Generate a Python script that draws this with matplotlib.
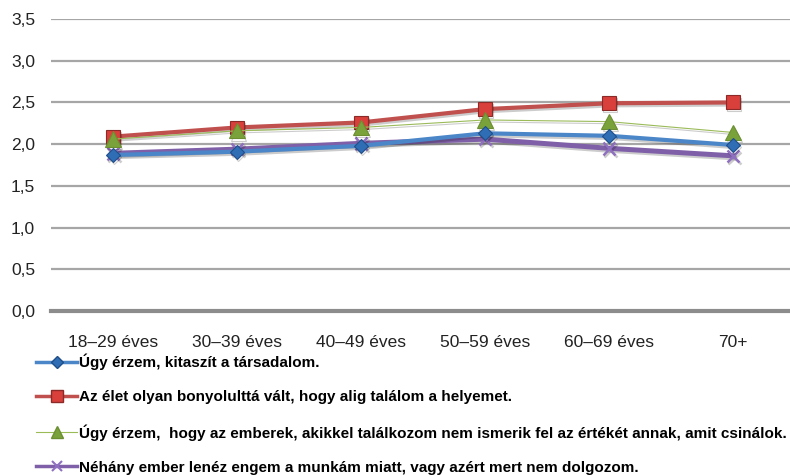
import matplotlib.pyplot as plt
import matplotlib.patheffects as pe
import numpy as np
from matplotlib.lines import Line2D

plt.rcParams['font.family'] = ['Liberation Sans Narrow', 'Liberation Sans', 'DejaVu Sans']

categories = ['18–29 éves', '30–39 éves', '40–49 éves', '50–59 éves', '60–69 éves', '70+']

kitaszit = [1.87, 1.91, 1.98, 2.13, 2.10, 1.99]
bonyolult = [2.09, 2.20, 2.26, 2.42, 2.49, 2.50]
ertek = [2.06, 2.16, 2.20, 2.29, 2.27, 2.14]
lenez = [1.89, 1.94, 2.01, 2.06, 1.95, 1.86]

labels = [
    'Úgy érzem, kitaszít a társadalom.',
    'Az élet olyan bonyolulttá vált, hogy alig találom a helyemet.',
    'Úgy érzem,  hogy az emberek, akikkel találkozom nem ismerik fel az értékét annak, amit csinálok.',
    'Néhány ember lenéz engem a munkám miatt, vagy azért mert nem dolgozom.',
]

yticks = [0.0, 0.5, 1.0, 1.5, 2.0, 2.5, 3.0, 3.5]


def main():
    fig = plt.figure(figsize=(7.9, 4.75), dpi=100)
    W, H = 790, 475
    ax = fig.add_axes([51 / W, 1 - 311 / H, 744 / W, 292 / H])

    x = np.arange(len(categories))
    shadow = [pe.SimpleLineShadow(offset=(1, -1.5), alpha=0.2), pe.Normal()]

    styles = [
        dict(data=lenez, color='#7f5fa8', lw=3.6, marker='x', ms=9, mew=1.8,
             mfc='#7f5fa8', mec='#8f6fbf', zorder=3),
        dict(data=ertek, color='#9bbb59', lw=0.8, marker='^', ms=11, mew=0.8,
             mfc='#7aa23a', mec='#6b8f30', zorder=4),
        dict(data=kitaszit, color='#4a86c8', lw=3.0, marker='D', ms=7, mew=0.8,
             mfc='#2f6db5', mec='#1f4f8a', zorder=5),
        dict(data=bonyolult, color='#c0504d', lw=3.0, marker='s', ms=10, mew=0.8,
             mfc='#d9403c', mec='#8c2a28', zorder=2),
    ]
    for s in styles:
        ax.plot(x, s['data'], color=s['color'], lw=s['lw'], marker=s['marker'],
                ms=s['ms'], mew=s['mew'], mfc=s['mfc'], mec=s['mec'],
                zorder=s['zorder'], path_effects=shadow, clip_on=False)

    ax.set_xlim(-0.5, len(categories) - 0.5)
    ax.set_ylim(0, 3.5)
    ax.set_yticks(yticks)
    ax.set_yticklabels([f'{v:.1f}'.replace('.', ',') for v in yticks], fontsize=12.5)
    ax.set_xticks(x)
    ax.set_xticklabels(categories, fontsize=12.5)
    ax.tick_params(axis='both', length=0, colors='#222222')
    ax.tick_params(axis='x', pad=17.5)
    ax.tick_params(axis='y', pad=11.5)
    for sp in ax.spines.values():
        sp.set_visible(False)
    for v in yticks[1:]:
        ax.axhline(v, color='#a6a6a6', lw=1.6, zorder=1)
    ax.axhline(0, color='#8c8c8c', lw=3, zorder=1, clip_on=False)

    handles = [
        Line2D([], [], color='#4a86c8', lw=2.5, marker='D', ms=6, mfc='#2f6db5', mec='#1f4f8a'),
        Line2D([], [], color='#c0504d', lw=2.5, marker='s', ms=8, mfc='#d9403c', mec='#8c2a28'),
        Line2D([], [], color='#9bbb59', lw=0.8, marker='^', ms=9, mfc='#7aa23a', mec='#6b8f30'),
        Line2D([], [], color='#7f5fa8', lw=2.5, marker='x', ms=7, mew=1.5, mfc='#7f5fa8', mec='#8f6fbf'),
    ]
    fig.legend(handles, labels, loc='upper left', bbox_to_anchor=(36 / W, 1 - 354 / H),
               frameon=False, handlelength=2.7, handletextpad=0.1, labelspacing=1.3,
               prop={'size': 11, 'weight': 'bold'}, borderaxespad=0, borderpad=0)

    fig.savefig('out.png', dpi=100)
    plt.close(fig)


if __name__ == '__main__':
    main()
